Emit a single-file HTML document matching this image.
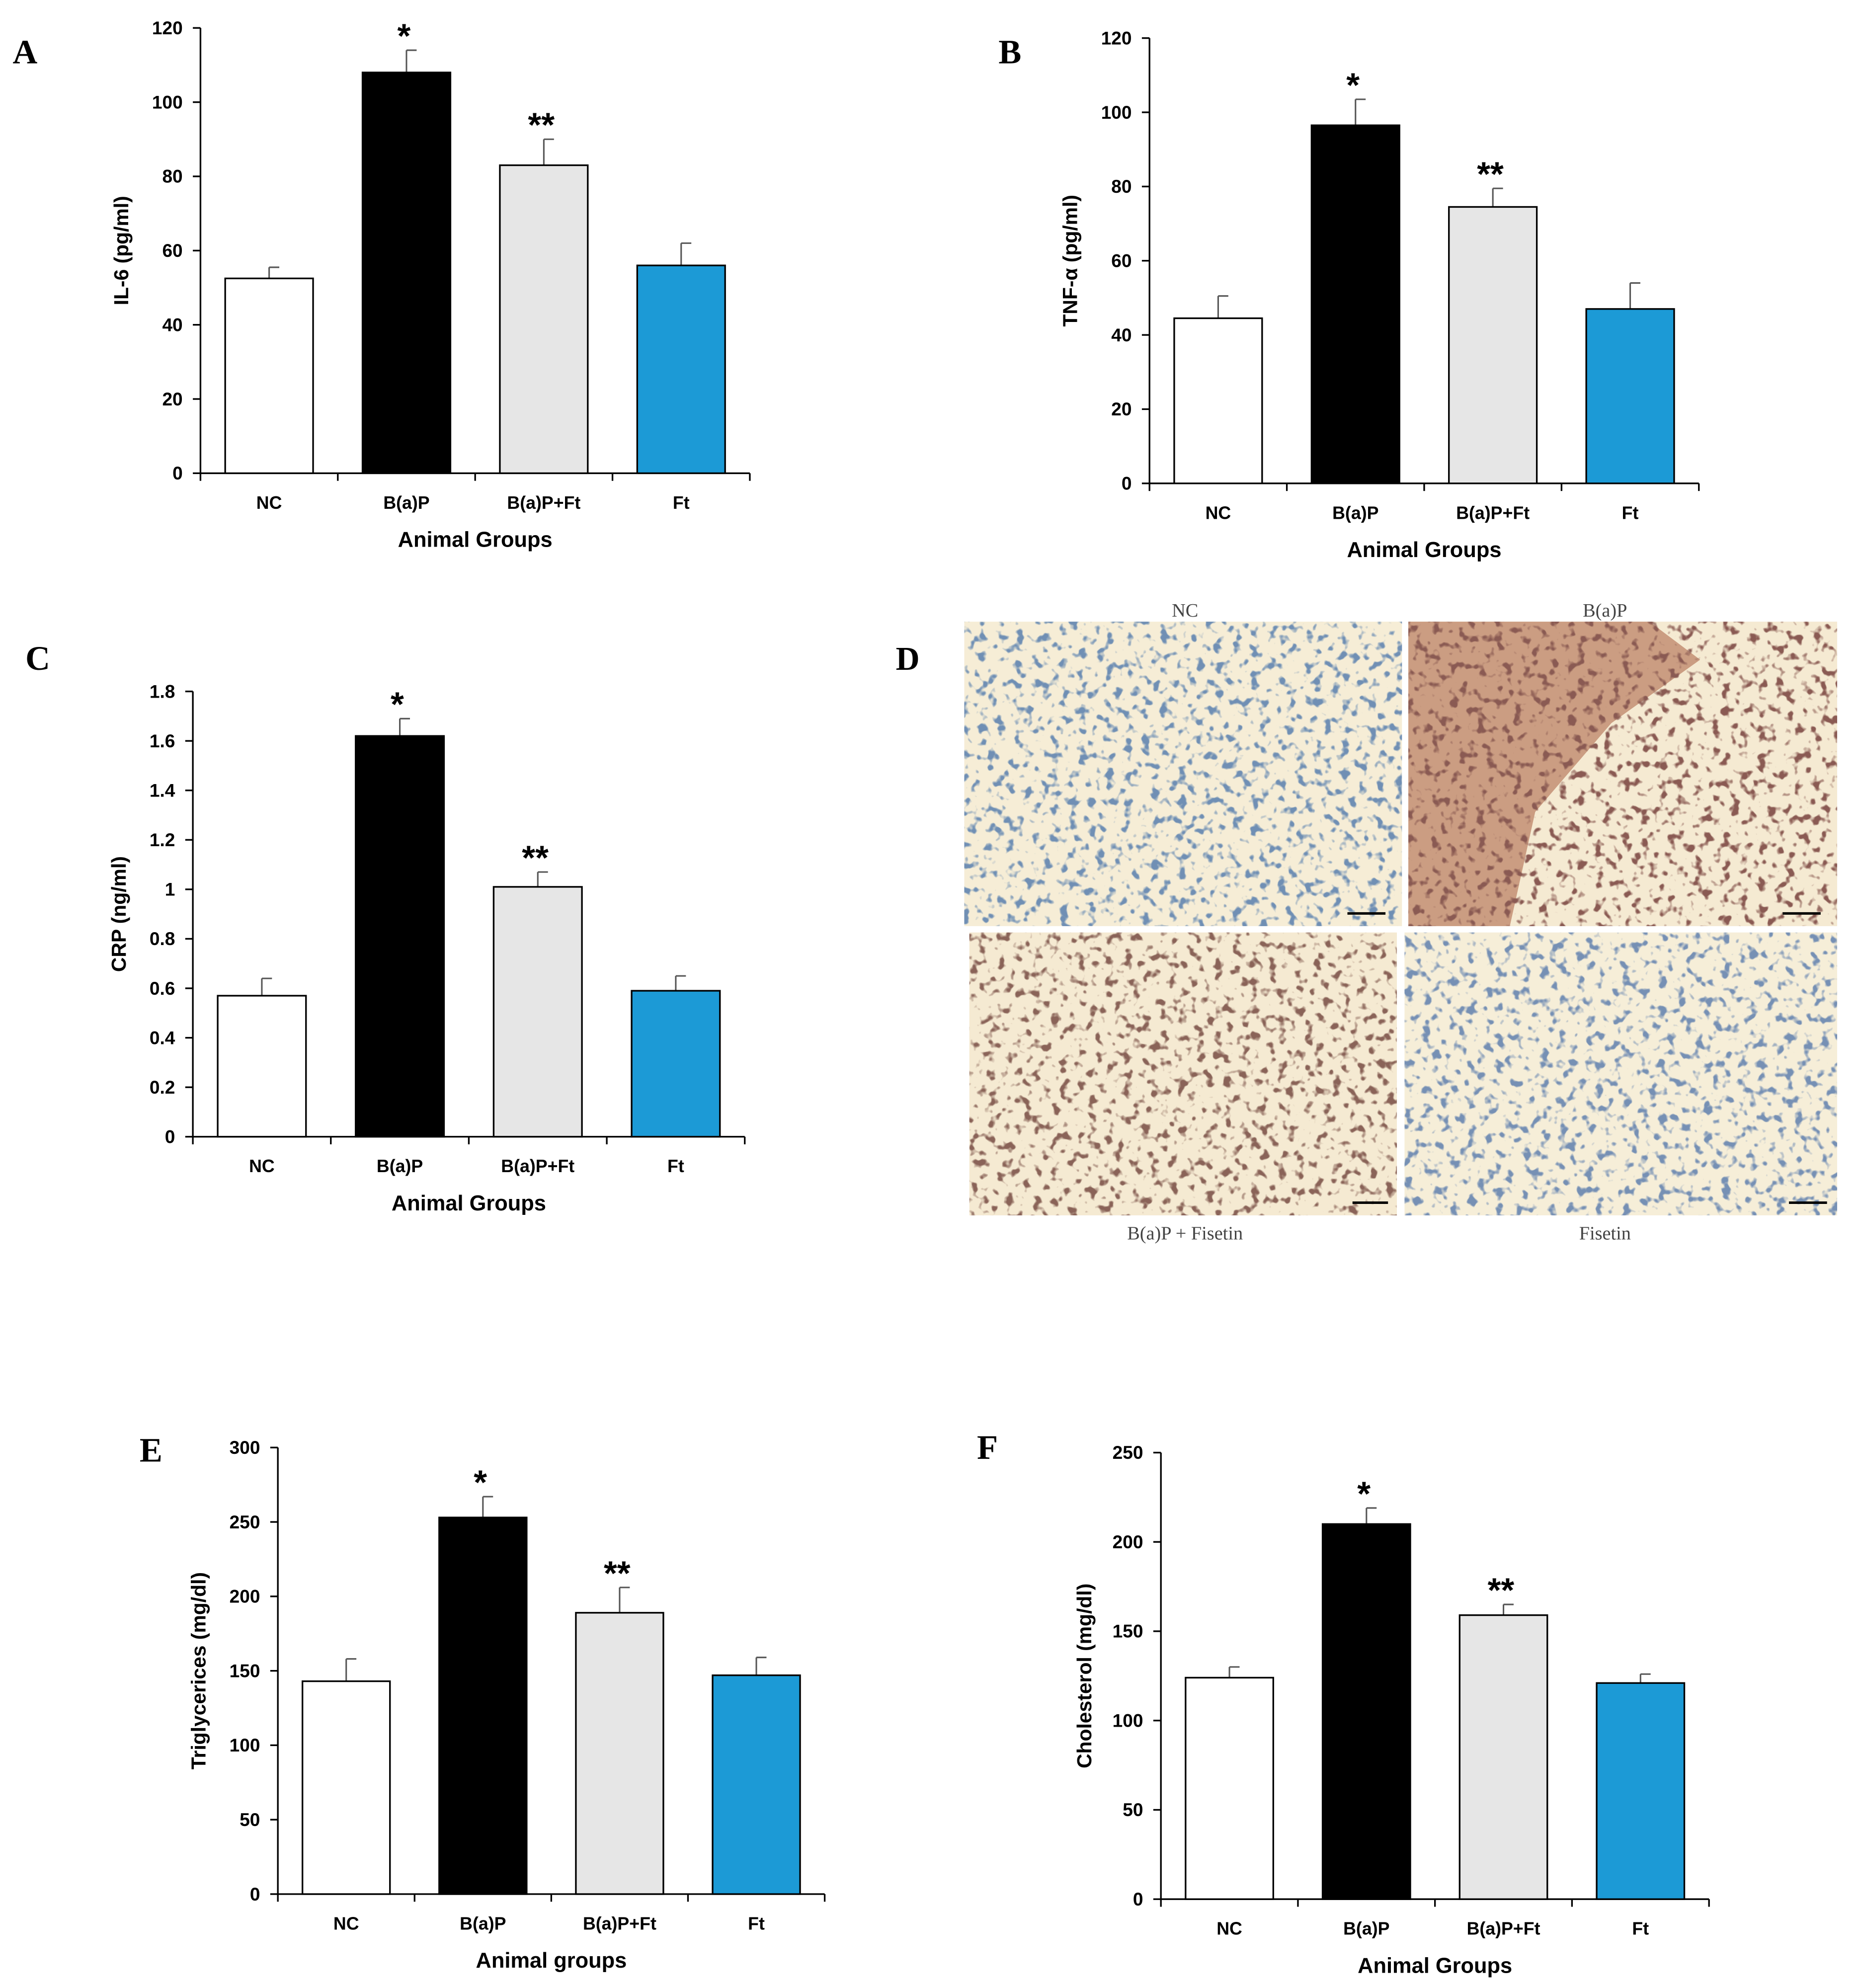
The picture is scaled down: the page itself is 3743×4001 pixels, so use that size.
<!DOCTYPE html>
<html><head><meta charset="utf-8"><style>
html,body{margin:0;padding:0;background:#fff}
svg{display:block}
text{font-family:"Liberation Sans",sans-serif}
text.serif{font-family:"Liberation Serif",serif}
</style></head><body>
<svg id="fig" width="3743" height="4001" viewBox="0 0 1466 1567" xmlns="http://www.w3.org/2000/svg">
<defs>
<filter id="tex" x="0" y="0" width="1" height="1">
<feTurbulence type="fractalNoise" baseFrequency="0.14" numOctaves="2" seed="3" result="n"/>
<feColorMatrix in="n" type="matrix" values="0 0 0 0 0  0 0 0 0 0  0 0 0 0 0  0 0 0 -7 3.1" result="m"/>
<feComposite in="SourceGraphic" in2="m" operator="in"/>
</filter>
</defs>
<g id="charts"></g>
<g id="micro">
<text class="serif" x="706" y="528" font-weight="bold" font-size="26">D</text>
<rect x="760" y="490" width="345" height="240" fill="#f6edd6"/>
<rect x="760" y="490" width="345" height="240" fill="#6f8fb4" filter="url(#tex)"/>
<rect x="1110" y="490" width="338" height="240" fill="#f5ead2"/>
<polygon points="1110,490 1300,490 1340,520 1270,570 1210,640 1190,730 1110,730" fill="#c08a6e" opacity="0.8"/>
<rect x="1110" y="490" width="338" height="240" fill="#8a5a52" filter="url(#tex)"/>
<rect x="764" y="735" width="337" height="223" fill="#f5ead2"/>
<rect x="764" y="735" width="337" height="223" fill="#8a6458" filter="url(#tex)"/>
<rect x="1107" y="735" width="341" height="223" fill="#f6eed8"/>
<rect x="1107" y="735" width="341" height="223" fill="#7690b4" filter="url(#tex)"/>
<g stroke="#000" stroke-width="2">
<line x1="1062" y1="720" x2="1092" y2="720"/><line x1="1405" y1="720" x2="1435" y2="720"/>
<line x1="1066" y1="948" x2="1094" y2="948"/><line x1="1410" y1="948" x2="1440" y2="948"/>
</g>
<g font-size="15" fill="#444" text-anchor="middle">
<text class="serif" x="934" y="486">NC</text>
<text class="serif" x="1265" y="486">B(a)P</text>
<text class="serif" x="934" y="977">B(a)P + Fisetin</text>
<text class="serif" x="1265" y="977">Fisetin</text>
</g>
</g>
</svg>
<script>
const categories = ["NC","B(a)P","B(a)P+Ft","Ft"];
const sigMarks = ["","*","**",""];
const ilValues = [52.5,108,83,56];
const ilErrors = [3,6,7,6];
const ilTicks = [0,20,40,60,80,100,120];
const tnfValues = [44.5,96.5,74.5,47];
const tnfErrors = [6,7,5,7];
const tnfTicks = [0,20,40,60,80,100,120];
const crpValues = [0.57,1.62,1.01,0.59];
const crpErrors = [0.07,0.07,0.06,0.06];
const crpTicks = [0,0.2,0.4,0.6,0.8,1,1.2,1.4,1.6,1.8];
const tgValues = [143,253,189,147];
const tgErrors = [15,14,17,12];
const tgTicks = [0,50,100,150,200,250,300];
const cholValues = [124,210,159,121];
const cholErrors = [6,9,6,5];
const cholTicks = [0,50,100,150,200,250];
const fills = ["#ffffff","#000000","#e6e6e6","#1c9ad6"];

const NS="http://www.w3.org/2000/svg";
const root=document.getElementById('charts');
function mk(tag,attrs,parent){const e=document.createElementNS(NS,tag);for(const k in attrs)e.setAttribute(k,attrs[k]);parent.appendChild(e);return e;}

function chart(cfg){
  const g=mk('g',{},root);
  
  
  const tmax=cfg.ticks[cfg.ticks.length-1];
  const y=v=>cfg.y0-(v/tmax)*(cfg.y0-cfg.yTop);
  const cw=(cfg.xEnd-cfg.x0)/categories.length;
  const x=i=>cfg.x0+cw*i;
  const letter=mk('text',{x:cfg.lx,y:cfg.ly,'class':'serif','font-weight':'bold','font-size':27},g);
  letter.textContent=cfg.letter;
  
  
  const ax=mk('path',{d:`M${cfg.x0},${cfg.yTop} V${cfg.y0} H${cfg.xEnd}`,fill:'none',stroke:'#000','stroke-width':1.3},g);
  
  
  cfg.ticks.forEach(t=>{
    mk('line',{x1:cfg.x0-6,x2:cfg.x0,y1:y(t),y2:y(t),stroke:'#000','stroke-width':1.3},g);
    const tl=mk('text',{x:cfg.x0-14,y:y(t)+5,'text-anchor':'end','font-weight':'bold','font-size':14.5},g);
    tl.textContent=String(t);
    
    
  });
  for(let i=0;i<=categories.length;i++) mk('line',{x1:x(i),x2:x(i),y1:cfg.y0,y2:cfg.y0+6,stroke:'#000','stroke-width':1.3},g);
  categories.forEach((c,i)=>{
    const bx=x(i)+cw*0.18, bw=cw*0.64, top=y(cfg.values[i]);
    const et=y(cfg.values[i]+cfg.errors[i]);
    const cx=bx+bw/2;
    mk('line',{x1:cx,x2:cx,y1:top,y2:et,stroke:'#555','stroke-width':1.2},g);
    mk('line',{x1:cx,x2:cx+8,y1:et,y2:et,stroke:'#555','stroke-width':1.2},g);
    const b=mk('rect',{x:bx,y:top,width:bw,height:cfg.y0-top,fill:fills[i],stroke:'#000','stroke-width':1.3},g);
    
    
    if(sigMarks[i]){
      const s=mk('text',{x:cx-2,y:et-2,'text-anchor':'middle','font-weight':'bold','font-size':27},g);
      s.textContent=sigMarks[i];
      
      
    }
    const cl=mk('text',{x:x(i)+cw/2,y:cfg.y0+28,'text-anchor':'middle','font-weight':'bold','font-size':14},g);
    cl.textContent=c;
    
    
  });
  const xt=mk('text',{x:(cfg.x0+cfg.xEnd)/2,y:cfg.y0+58,'text-anchor':'middle','font-weight':'bold','font-size':17},g);
  xt.textContent=cfg.xTitle;
  
  
  const ym=(cfg.y0+cfg.yTop)/2;
  const yt=mk('text',{x:cfg.ylx,y:ym,'text-anchor':'middle','font-weight':'bold','font-size':16,transform:`rotate(-90 ${cfg.ylx} ${ym})`},g);
  yt.textContent=cfg.yTitle;
  
  
}
chart({id:'a',letter:'A',lx:10,ly:50,x0:158,xEnd:591,y0:373,yTop:22,values:ilValues,errors:ilErrors,ticks:ilTicks,xTitle:'Animal Groups',yTitle:'IL-6 (pg/ml)',ylx:101});
chart({id:'b',letter:'B',lx:787,ly:50,x0:906,xEnd:1339,y0:381,yTop:30,values:tnfValues,errors:tnfErrors,ticks:tnfTicks,xTitle:'Animal Groups',yTitle:'TNF-α (pg/ml)',ylx:849});
chart({id:'c',letter:'C',lx:20,ly:528,x0:152,xEnd:587,y0:896,yTop:545,values:crpValues,errors:crpErrors,ticks:crpTicks,xTitle:'Animal Groups',yTitle:'CRP (ng/ml)',ylx:99});
chart({id:'e',letter:'E',lx:110,ly:1152,x0:219,xEnd:650,y0:1493,yTop:1141,values:tgValues,errors:tgErrors,ticks:tgTicks,xTitle:'Animal groups',yTitle:'Triglycerices  (mg/dl)',ylx:162});
chart({id:'f',letter:'F',lx:770,ly:1150,x0:915,xEnd:1347,y0:1497,yTop:1145,values:cholValues,errors:cholErrors,ticks:cholTicks,xTitle:'Animal Groups',yTitle:'Cholesterol  (mg/dl)',ylx:860});
</script>
</body></html>
